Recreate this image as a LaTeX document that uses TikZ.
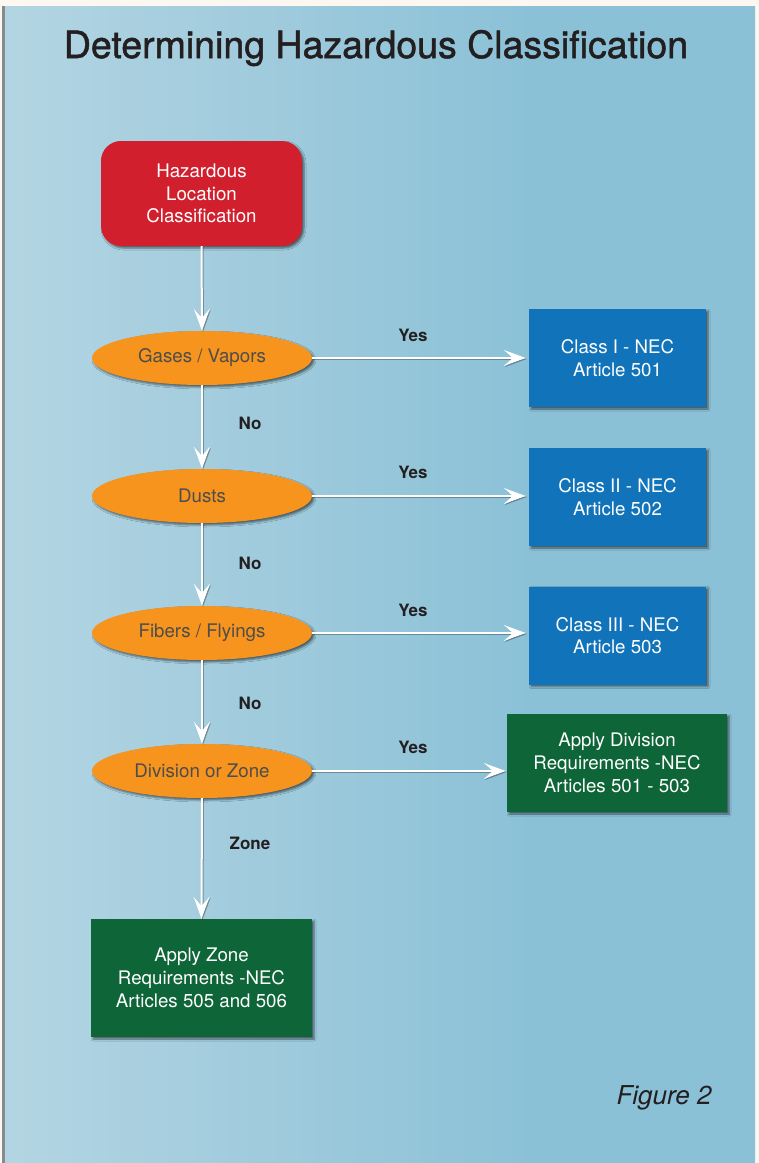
\documentclass[tikz,border=0pt]{standalone}
\usepackage{fontspec}
\setmainfont{TeX Gyre Heros}
\newfontfamily\titlefont[FakeBold=1.3]{TeX Gyre Heros}
\usetikzlibrary{shapes.geometric,arrows.meta,shadows.blur}
\definecolor{cream}{HTML}{FCF8F1}
\definecolor{bgA}{HTML}{CFE5EC}
\definecolor{bgB}{HTML}{A8CFDF}
\definecolor{bgC}{HTML}{8BC1D7}
\definecolor{edgegray}{HTML}{868B8E}
\definecolor{hazred}{HTML}{D11F2E}
\definecolor{hazorange}{HTML}{F7941D}
\definecolor{hazblue}{HTML}{1173BA}
\definecolor{hazgreen}{HTML}{0E6538}
\definecolor{elltext}{HTML}{4D4D4D}
\definecolor{darktext}{HTML}{231F20}
\pgfdeclarehorizontalshading{panelbg}{100bp}{color(0bp)=(bgA); color(35bp)=(bgB); color(60bp)=(bgC); color(100bp)=(bgC)}
\begin{document}
\begin{tikzpicture}[x=1pt,y=-1pt,
  shad/.style={blur shadow={shadow xshift=2pt,shadow yshift=-2pt,shadow blur radius=2pt,shadow opacity=55}},
  boxtext/.style={text=white,align=center,font=\fontsize{18.7}{22.7}\selectfont,inner sep=0pt},
  redbox/.style={shad,boxtext,fill=hazred,rounded corners=20pt,minimum width=201pt,minimum height=105pt},
  ell/.style={shad,ellipse,fill=hazorange,minimum width=220pt,minimum height=54pt,inner sep=0pt,text=elltext,font=\fontsize{18.7}{22}\selectfont},
  bluebox/.style={shad,boxtext,fill=hazblue,minimum width=177pt,minimum height=98pt},
  greenbox/.style={shad,boxtext,fill=hazgreen},
  lbl/.style={text=darktext,font=\bfseries\fontsize{17}{20}\selectfont,inner sep=0pt},
  arrshadow/.style={draw=black,opacity=0.3,line width=2pt,transform canvas={xshift=1pt,yshift=-1pt},-{Stealth[length=22pt,width=16pt,inset=9pt]}},
  arr/.style={draw=white,line width=2pt,-{Stealth[length=22pt,width=16pt,inset=9pt]}}
]
\useasboundingbox (0,0) rectangle (759,1163);
\fill[cream] (0,0) rectangle (759,1163);
\shade[shading=panelbg] (4.5,6) rectangle (755,1163);
\fill[edgegray] (1.5,6) rectangle (4.5,1163);

\node[text=darktext,inner sep=0pt,anchor=base] (title) at (376,58) {\titlefont\fontsize{37.5}{40}\selectfont Determining Hazardous Classification};

\node[redbox] (start) at (201.5,193.5) {Hazardous\\Location\\Classification};

\node[ell] (gas) at (202,358) {Gases / Vapors};
\node[ell] (dust) at (202,496) {Dusts};
\node[ell] (fiber) at (202,633) {Fibers / Flyings};
\node[ell] (div) at (202,771) {Division or Zone};

\node[bluebox] (c1) at (617.5,358) {Class I - NEC\\Article 501};
\node[bluebox] (c2) at (617.5,497) {Class II - NEC\\Article 502};
\node[bluebox] (c3) at (617.5,635.5) {Class III - NEC\\Article 503};
\node[greenbox,minimum width=220pt,minimum height=98pt] (divbox) at (617,763) {Apply Division\\Requirements -NEC\\Articles 501 - 503};
\node[greenbox,minimum width=221pt,minimum height=118pt] (zonebox) at (201.5,978) {Apply Zone\\Requirements -NEC\\Articles 505 and 506};

\foreach \s in {arrshadow,arr}{
  \draw[\s] (start.south) -- (gas.north);
  \draw[\s] (gas.south) -- (dust.north);
  \draw[\s] (dust.south) -- (fiber.north);
  \draw[\s] (fiber.south) -- (div.north);
  \draw[\s] (div.south) -- (zonebox.north);
  \draw[\s,shorten >=3pt] (gas.east) -- (gas.east -| c1.west);
  \draw[\s,shorten >=3pt] (dust.east) -- (dust.east -| c2.west);
  \draw[\s,shorten >=3pt] (fiber.east) -- (fiber.east -| c3.west);
  \draw[\s,shorten >=1pt] (div.east) -- (div.east -| divbox.west);
}

\node[lbl] (y1) at (413,335) {Yes};
\node[lbl] (y2) at (413,472) {Yes};
\node[lbl] (y3) at (413,610) {Yes};
\node[lbl] (y4) at (413,747) {Yes};
\node[lbl] (n1) at (250,423) {No};
\node[lbl] (n2) at (250,563) {No};
\node[lbl] (n3) at (250,703) {No};
\node[lbl] (zl) at (250,843) {Zone};

\node[text=darktext,inner sep=0pt,font=\itshape\fontsize{26}{30}\selectfont] (fig) at (664,1098) {Figure 2};
\end{tikzpicture}
\end{document}
